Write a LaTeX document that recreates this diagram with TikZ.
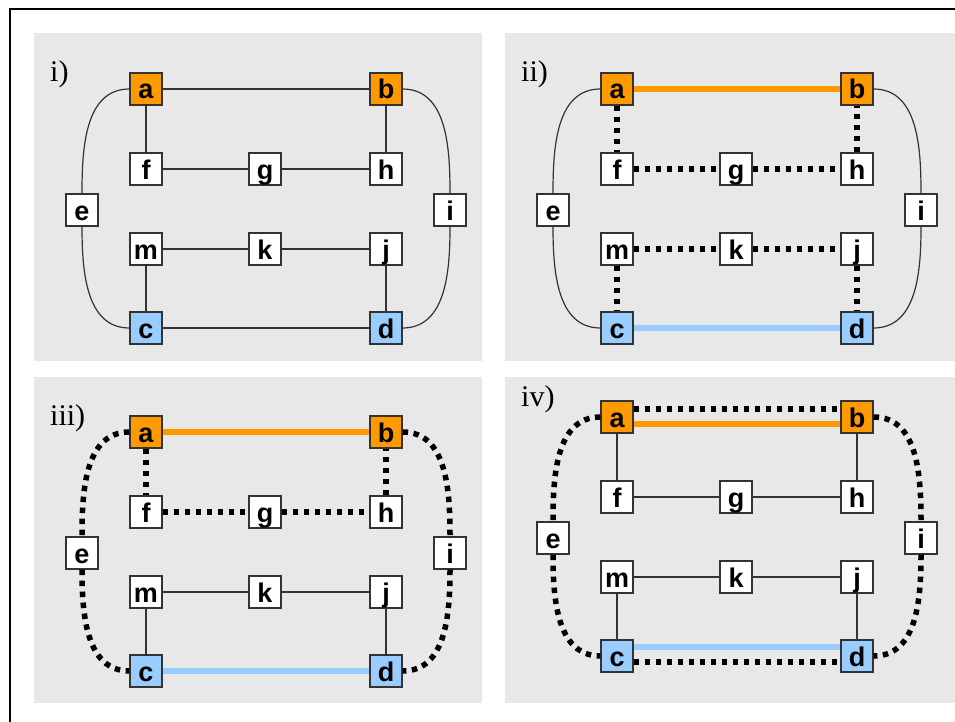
\documentclass[tikz,border=0pt]{standalone}
\usepackage{fontspec}
\setmainfont{Liberation Serif}
\newfontfamily\boxfont{Liberation Sans}
\definecolor{panelgray}{HTML}{E8E8E8}
\definecolor{orng}{HTML}{FF9900}
\definecolor{lblue}{HTML}{99CCFF}
\definecolor{edgegray}{HTML}{333333}
\tikzset{
  box/.style={draw=edgegray, line width=1.2pt, fill=white, minimum size=32pt,
    inner sep=0pt, text height=20pt, text depth=0pt,
    font=\boxfont\bfseries\fontsize{27}{27}\selectfont},
  thin/.style={draw=edgegray, line width=1.2pt},
  dots/.style={draw=black, line width=5.5pt, dash pattern=on 5.5pt off 5.5pt},
  orangeline/.style={draw=orng, line width=5.5pt},
  blueline/.style={draw=lblue, line width=5.5pt},
  panellabel/.style={anchor=base west, inner sep=0pt, font=\fontsize{30}{30}\selectfont},
  panelbg/.style={fill=panelgray, draw=none}
}
% the twelve boxes of one panel
\newcommand\graphnodes{%
  \node[box,fill=orng]  (a) at (146,89)  {a};
  \node[box,fill=orng]  (b) at (386,89)  {b};
  \node[box]            (f) at (146,169) {f};
  \node[box]            (g) at (265,169) {g};
  \node[box]            (h) at (386,169) {h};
  \node[box]            (e) at (82,210)  {e};
  \node[box]            (i) at (450,210) {i};
  \node[box]            (m) at (146,249) {m};
  \node[box]            (k) at (265,249) {k};
  \node[box]            (j) at (386,249) {j};
  \node[box,fill=lblue] (c) at (146,328) {c};
  \node[box,fill=lblue] (d) at (386,328) {d};
}
\begin{document}
\begin{tikzpicture}[x=1pt, y=-1pt]
\useasboundingbox (0,0) rectangle (955,722);
\clip (0,0) rectangle (955,722);
\fill[white] (0,0) rectangle (955,722);
\draw[line width=2.8pt] (10,9) rectangle (1000,800);

% backgrounds
\fill[panelbg] (34,33)  rectangle (482,361);
\fill[panelbg] (505,33) rectangle (1000,361);
\fill[panelbg] (34,377) rectangle (482,703);
\fill[panelbg] (505,377) rectangle (1000,703);

% panel i)
\begin{scope}[name prefix=p1-]
  \node[panellabel] (lbl) at (50,82) {i)};
  \graphnodes
  \draw[thin] (a) -- (b);
  \draw[thin] (a) -- (f);
  \draw[thin] (f) -- (g);
  \draw[thin] (g) -- (h);
  \draw[thin] (h) -- (b);
  \draw[thin] (m) -- (k);
  \draw[thin] (k) -- (j);
  \draw[thin] (m) -- (c);
  \draw[thin] (j) -- (d);
  \draw[thin] (c) -- (d);
  \draw[thin] (a.west) to[out=180,in=90] (e.north);
  \draw[thin] (e.south) to[out=-90,in=180] (c.west);
  \draw[thin] (b.east) to[out=0,in=90] (i.north);
  \draw[thin] (i.south) to[out=-90,in=0] (d.east);
\end{scope}

% panel ii)
\begin{scope}[shift={(471,0)}, name prefix=p2-]
  \node[panellabel] (lbl) at (50,82) {ii)};
  \graphnodes
  \draw[orangeline] (a) -- (b);
  \draw[blueline] (c) -- (d);
  \draw[dots] (a) -- (f);
  \draw[dots] (f) -- (g);
  \draw[dots] (g) -- (h);
  \draw[dots] (h) -- (b);
  \draw[dots] (m) -- (k);
  \draw[dots] (k) -- (j);
  \draw[dots] (m) -- (c);
  \draw[dots] (j) -- (d);
  \draw[thin] (a.west) to[out=180,in=90] (e.north);
  \draw[thin] (e.south) to[out=-90,in=180] (c.west);
  \draw[thin] (b.east) to[out=0,in=90] (i.north);
  \draw[thin] (i.south) to[out=-90,in=0] (d.east);
\end{scope}

% panel iii)
\begin{scope}[shift={(0,343)}, name prefix=p3-]
  \node[panellabel] (lbl) at (50,82) {iii)};
  \graphnodes
  \draw[orangeline] (a) -- (b);
  \draw[blueline] (c) -- (d);
  \draw[dots] (a) -- (f);
  \draw[dots] (f) -- (g);
  \draw[dots] (g) -- (h);
  \draw[dots] (h) -- (b);
  \draw[thin] (m) -- (k);
  \draw[thin] (k) -- (j);
  \draw[thin] (m) -- (c);
  \draw[thin] (j) -- (d);
  \draw[dots] (a.west) to[out=180,in=90] (e.north);
  \draw[dots] (e.south) to[out=-90,in=180] (c.west);
  \draw[dots] (b.east) to[out=0,in=90] (i.north);
  \draw[dots] (i.south) to[out=-90,in=0] (d.east);
\end{scope}

% panel iv)
\begin{scope}[shift={(471,328)}, name prefix=p4-]
  \node[panellabel] (lbl) at (50,78) {iv)};
  \graphnodes
  \draw[dots] ([yshift=8pt]a.east) -- ([yshift=8pt]b.west);
  \draw[orangeline] ([yshift=-7pt]a.east) -- ([yshift=-7pt]b.west);
  \draw[blueline] ([yshift=9pt]c.east) -- ([yshift=9pt]d.west);
  \draw[dots] ([yshift=-6pt]c.east) -- ([yshift=-6pt]d.west);
  \draw[thin] (a) -- (f);
  \draw[thin] (f) -- (g);
  \draw[thin] (g) -- (h);
  \draw[thin] (h) -- (b);
  \draw[thin] (m) -- (k);
  \draw[thin] (k) -- (j);
  \draw[thin] (m) -- (c);
  \draw[thin] (j) -- (d);
  \draw[dots] (a.west) to[out=180,in=90] (e.north);
  \draw[dots] (e.south) to[out=-90,in=180] (c.west);
  \draw[dots] (b.east) to[out=0,in=90] (i.north);
  \draw[dots] (i.south) to[out=-90,in=0] (d.east);
\end{scope}
\end{tikzpicture}
\end{document}
